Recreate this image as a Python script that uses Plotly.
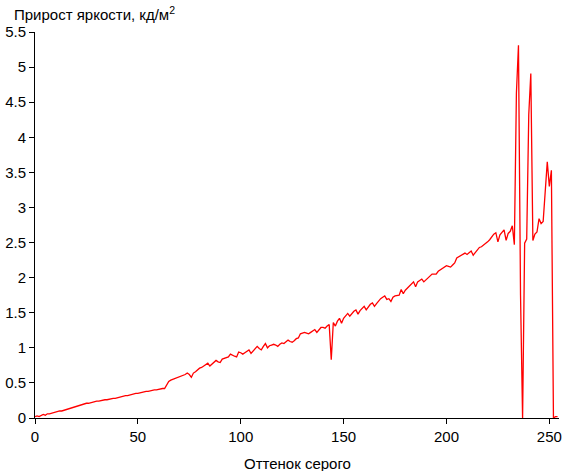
import plotly.graph_objects as go

gray_levels = list(range(0, 255))
brightness_gain = [
    0.02, 0.03, 0.02, 0.04, 0.05, 0.04, 0.06, 0.06, 0.07, 0.08,
    0.08, 0.09, 0.10, 0.10, 0.11, 0.12, 0.12, 0.13, 0.14, 0.15,
    0.16, 0.17, 0.18, 0.19, 0.20, 0.21, 0.21, 0.22, 0.23, 0.23,
    0.24, 0.24, 0.25, 0.25, 0.26, 0.26, 0.27, 0.27, 0.28, 0.28,
    0.29, 0.30, 0.30, 0.31, 0.32, 0.32, 0.33, 0.34, 0.34, 0.35,
    0.35, 0.36, 0.37, 0.37, 0.38, 0.38, 0.39, 0.40, 0.40, 0.40,
    0.41, 0.41, 0.42, 0.42, 0.47, 0.52, 0.54, 0.55, 0.56, 0.57,
    0.58, 0.59, 0.61, 0.62, 0.64, 0.62, 0.58, 0.64, 0.66, 0.69,
    0.71, 0.72, 0.74, 0.76, 0.78, 0.74, 0.77, 0.79, 0.82, 0.80,
    0.79, 0.84, 0.85, 0.86, 0.87, 0.91, 0.89, 0.88, 0.87, 0.94,
    0.93, 0.91, 0.93, 0.95, 0.97, 0.92, 0.95, 0.98, 1.02, 0.99,
    0.97, 1.02, 1.06, 1.00, 1.03, 1.04, 1.05, 1.04, 1.02, 1.05,
    1.07, 1.06, 1.09, 1.11, 1.09, 1.08, 1.10, 1.13, 1.14, 1.20,
    1.21, 1.22, 1.21, 1.20, 1.22, 1.24, 1.26, 1.22, 1.26, 1.29,
    1.29, 1.28, 1.31, 1.33, 0.83, 1.36, 1.31, 1.38, 1.42, 1.35,
    1.42, 1.45, 1.49, 1.45, 1.49, 1.52, 1.54, 1.48, 1.53, 1.56,
    1.59, 1.54, 1.58, 1.62, 1.64, 1.59, 1.63, 1.67, 1.70, 1.72,
    1.74, 1.69, 1.70, 1.66, 1.72, 1.74, 1.74, 1.75, 1.83, 1.77,
    1.82, 1.85, 1.87, 1.90, 1.94, 1.87, 1.94, 1.96, 1.98, 1.94,
    1.97, 1.99, 2.02, 2.05, 2.05, 2.05, 2.09, 2.11, 2.12, 2.14,
    2.17, 2.16, 2.15, 2.18, 2.21, 2.28, 2.30, 2.32, 2.33, 2.35,
    2.33, 2.36, 2.38, 2.32, 2.36, 2.39, 2.43, 2.44, 2.46, 2.48,
    2.51, 2.54, 2.58, 2.62, 2.64, 2.51, 2.61, 2.64, 2.68, 2.53,
    2.63, 2.66, 2.74, 2.47, 4.63, 5.31, 1.75, 0.00, 2.49, 2.55,
    4.32, 4.91, 2.53, 2.62, 2.65, 2.84, 2.77, 2.80, 3.30, 3.65,
    3.30, 3.53, 0.00, 0.02, 0.02,
]

x_ticks = [0, 50, 100, 150, 200, 250]
y_ticks = [0, 0.5, 1, 1.5, 2, 2.5, 3, 3.5, 4, 4.5, 5, 5.5]
y_title = "Прирост яркости, кд/м<sup>2</sup>"
x_title = "Оттенок серого"

FONT = "Liberation Sans, Arial, sans-serif"
TICK_FONT = "Liberation Sans Narrow, Liberation Sans, Arial, sans-serif"

fig = go.Figure()
fig.add_trace(go.Scatter(
    x=gray_levels, y=brightness_gain, mode="lines",
    line=dict(color="#ff0000", width=1.3), showlegend=False,
    hoverinfo="x+y",
))

fig.update_layout(
    width=562, height=471,
    margin=dict(l=35, r=3, t=32, b=53, autoexpand=False),
    paper_bgcolor="white", plot_bgcolor="white",
    font=dict(family=FONT, size=14, color="black"),
    xaxis=dict(
        range=[0, 254.7], tickvals=x_ticks, ticks="outside", ticklen=5,
        tickcolor="black", showline=True, linecolor="black", linewidth=1,
        showgrid=False, zeroline=False, automargin=False,
        tickfont=dict(family=TICK_FONT, size=15),
    ),
    yaxis=dict(
        range=[0, 5.5], tickvals=y_ticks, ticks="outside", ticklen=5,
        tickcolor="black", showline=True, linecolor="black", linewidth=1,
        showgrid=False, zeroline=False, automargin=False,
        tickfont=dict(family=TICK_FONT, size=15),
    ),
    annotations=[
        dict(text=y_title, xref="paper", yref="paper", x=0, y=1,
             xanchor="left", yanchor="middle", xshift=-23, yshift=19,
             showarrow=False, font=dict(size=15)),
        dict(text=x_title, xref="paper", yref="paper", x=0.5, y=0,
             xanchor="center", yanchor="middle", yshift=-45,
             showarrow=False, font=dict(size=15)),
    ],
)

fig.write_html("out.html", config={"displayModeBar": False},
               post_script="document.body.style.margin='0';")
